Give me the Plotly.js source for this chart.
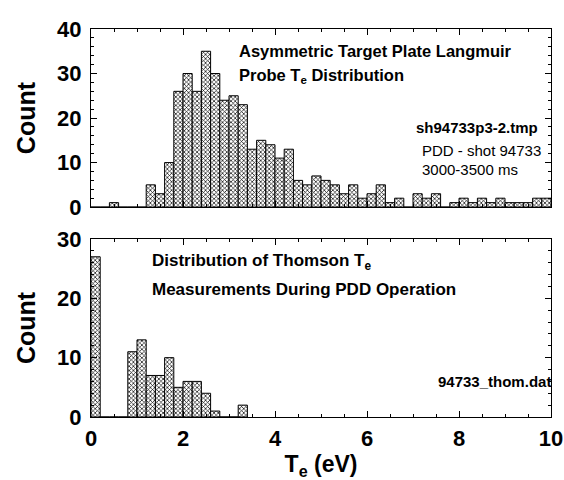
<!DOCTYPE html>
<html>
<head>
<meta charset="utf-8">
<script src="https://cdn.plot.ly/plotly-3.0.1.min.js"></script>
<style>html,body{margin:0;padding:0;background:#fff;}#plot{width:564px;height:480px;}</style>
</head>
<body>
<div id="plot"></div>
<script>
// Bin settings (0.2 eV bins starting at 0)
const binStart = 0.1;   // centre of first bin
const binWidth = 0.2;

// Langmuir probe Te histogram (counts per 0.2 eV bin, 0..10 eV)
const probeCounts = [
  0, 0, 1, 0, 0, 0, 5, 3, 10, 26,
  30, 26, 35, 30, 24, 25, 23, 13, 15, 14,
  11, 13, 6, 5, 7, 6, 5, 3, 5, 2,
  3, 5, 1, 2, 0, 3, 2, 3, 0, 1,
  2, 1, 2, 1, 2, 1, 1, 1, 2, 2
];

// Thomson Te histogram (counts per 0.2 eV bin, 0..3.4 eV)
const thomsonCounts = [
  27, 0, 0, 0, 11, 13, 7, 7, 10, 5,
  6, 6, 4, 1, 0, 0, 2
];

const xTickVals = [0, 2, 4, 6, 8, 10];
const topYTicks = [0, 10, 20, 30, 40];
const botYTicks = [0, 10, 20, 30];

const FONT = 'Liberation Sans, Arial, sans-serif';

const barMarker = {
  color: '#ffffff',
  line: {color: '#000000', width: 1},
  pattern: {shape: 'x', fgcolor: '#000000', bgcolor: '#ffffff', size: 3, solidity: 0.4}
};

const traces = [
  {type: 'bar', x0: binStart, dx: binWidth, y: probeCounts, width: binWidth,
   xaxis: 'x', yaxis: 'y', marker: barMarker, hoverinfo: 'skip'},
  {type: 'bar', x0: binStart, dx: binWidth, y: thomsonCounts, width: binWidth,
   xaxis: 'x2', yaxis: 'y2', marker: barMarker, hoverinfo: 'skip'}
];

const axisCommon = {
  showline: true, linecolor: '#000', linewidth: 1, mirror: 'ticks',
  ticks: 'inside', ticklen: 6, tickcolor: '#000', tickwidth: 1,
  showgrid: false, zeroline: false, fixedrange: true, ticklabeloverflow: 'allow'
};

const L = 91, R = 13, T = 29, B = 63;
const PW = 564 - L - R, PH = 480 - T - B;
function px2x(px) { return (px - L) / PW; }
function px2y(py) { return (480 - B - py) / PH; }

function note(text, xpx, ypx, size, bold) {
  return {xref: 'paper', yref: 'paper', x: px2x(xpx), y: px2y(ypx),
    xanchor: 'left', yanchor: 'middle', align: 'left', showarrow: false,
    text: text, font: {family: FONT, size: size, weight: bold ? 700 : 400}};
}

const layout = {
  width: 564, height: 480,
  margin: {l: L, r: R, t: T, b: B},
  paper_bgcolor: '#fff', plot_bgcolor: '#fff',
  showlegend: false, bargap: 0,
  font: {family: FONT, color: '#000'},
  xaxis: Object.assign({}, axisCommon, {
    domain: [0, 1], anchor: 'y', range: [0, 10],
    tickvals: xTickVals, showticklabels: false,
    minor: {dtick: 0.5, ticklen: 3, ticks: 'inside', tickcolor: '#000'}
  }),
  yaxis: Object.assign({}, axisCommon, {
    domain: [0.541, 1], anchor: 'x', range: [0, 40],
    tickvals: topYTicks, ticklabelstandoff: 4,
    tickfont: {family: FONT, size: 22, weight: 700},
    minor: {dtick: 2, ticklen: 3, ticks: 'inside', tickcolor: '#000'},
    title: {text: 'Count', font: {family: FONT, size: 25, weight: 700}, standoff: 14}
  }),
  xaxis2: Object.assign({}, axisCommon, {
    domain: [0, 1], anchor: 'y2', range: [0, 10],
    tickvals: xTickVals, ticklabelstandoff: 2,
    tickfont: {family: FONT, size: 22, weight: 700},
    minor: {dtick: 0.5, ticklen: 3, ticks: 'inside', tickcolor: '#000'},
    title: {text: 'T<sub>e</sub> (eV)', font: {family: FONT, size: 23, weight: 700}, standoff: 7}
  }),
  yaxis2: Object.assign({}, axisCommon, {
    domain: [0, 0.4588], anchor: 'x2', range: [0, 30],
    tickvals: botYTicks, ticklabelstandoff: 4,
    tickfont: {family: FONT, size: 22, weight: 700},
    minor: {dtick: 2, ticklen: 3, ticks: 'inside', tickcolor: '#000'},
    title: {text: 'Count', font: {family: FONT, size: 25, weight: 700}, standoff: 14}
  }),
  annotations: [
    note('Asymmetric Target Plate Langmuir', 237, 51, 16.5, true),
    note('Probe T<sub>e</sub> Distribution', 237, 76, 16.5, true),
    note('sh94733p3-2.tmp', 414, 127, 15, true),
    note('PDD - shot 94733', 420, 150, 15, false),
    note('3000-3500 ms', 420, 169, 15, false),
    note('Distribution of Thomson T<sub>e</sub>', 150, 262, 17, true),
    note('Measurements During PDD Operation', 150, 289, 17, true),
    note('94733_thom.dat', 436, 381, 15, true)
  ]
};

Plotly.newPlot('plot', traces, layout, {staticPlot: true, displayModeBar: false});
</script>
</body>
</html>
